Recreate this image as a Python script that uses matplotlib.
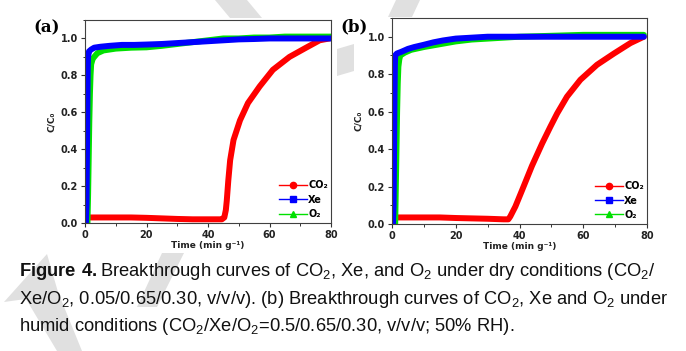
"""Breakthrough curves of CO2, Xe and O2 (dry / humid), two panels with caption."""

import matplotlib
matplotlib.use("Agg")
import matplotlib.pyplot as plt
from matplotlib.lines import Line2D
from matplotlib.patches import Polygon
from matplotlib.ticker import MultipleLocator

W, H = 686, 351

plt.rcParams["mathtext.fontset"] = "custom"
plt.rcParams["mathtext.rm"] = "Liberation Sans"
plt.rcParams["mathtext.bf"] = "Liberation Sans:bold"
plt.rcParams["mathtext.default"] = "rm"

# ---- data ----
# (a) dry conditions
co2_a_t = [0.3, 0.6, 1, 5, 10, 15, 20, 25, 30, 35, 40, 44.5, 45.3, 45.8, 46.1,
           46.6, 47.2, 48.3, 50.4, 53, 56.8, 61.1, 66.5, 71.9, 76.3, 79.5]
co2_a_v = [0.0, 0.02, 0.03, 0.03, 0.03, 0.03, 0.028, 0.025, 0.022, 0.02, 0.02,
           0.02, 0.03, 0.07, 0.12, 0.23, 0.34, 0.45, 0.556, 0.65, 0.74, 0.83,
           0.9, 0.95, 0.99, 1.0]
xe_a_t = [0.3, 0.5, 0.6, 0.7, 0.8, 0.9, 1.0, 1.3, 2, 3, 5, 8, 12, 16, 20, 25,
          30, 35, 40, 45, 50, 55, 60, 65, 70, 75, 80]
xe_a_v = [0.0, 0.1, 0.3, 0.5, 0.7, 0.85, 0.9, 0.93, 0.94, 0.95, 0.955, 0.96,
          0.965, 0.965, 0.967, 0.97, 0.975, 0.98, 0.985, 0.99, 0.995, 0.997,
          1.0, 1.0, 1.0, 1.0, 1.0]
o2_a_t = [0.8, 1.0, 1.2, 1.4, 1.6, 1.8, 2.0, 2.5, 3, 4, 6, 10, 15, 20, 25, 30,
          35, 40, 45, 50, 55, 60, 65, 70, 75, 80]
o2_a_v = [0.0, 0.15, 0.35, 0.55, 0.7, 0.8, 0.86, 0.89, 0.9, 0.92, 0.935, 0.945,
          0.95, 0.952, 0.96, 0.97, 0.98, 0.99, 1.0, 1.0, 1.005, 1.005, 1.01,
          1.01, 1.01, 1.01]

# (b) humid conditions
co2_b_t = [0.3, 0.6, 1, 5, 10, 15, 20, 25, 30, 35, 36.5, 37.1, 38.7, 40.8, 43.9,
           47.1, 49.7, 51.8, 54.9, 59.1, 64.3, 69.6, 74.8, 79]
co2_b_v = [0.0, 0.03, 0.035, 0.035, 0.035, 0.035, 0.032, 0.03, 0.028, 0.025,
           0.025, 0.04, 0.093, 0.18, 0.31, 0.43, 0.52, 0.59, 0.68, 0.77, 0.85,
           0.91, 0.966, 1.0]
xe_b_t = [0.3, 0.5, 0.6, 0.7, 0.8, 0.9, 1.0, 1.5, 3, 5, 7, 10, 13, 16, 20, 25,
          30, 40, 50, 60, 70, 79]
xe_b_v = [0.0, 0.1, 0.3, 0.5, 0.7, 0.85, 0.9, 0.91, 0.92, 0.935, 0.945, 0.957,
          0.97, 0.98, 0.99, 0.995, 1.0, 1.0, 1.0, 1.0, 1.0, 1.0]
o2_b_t = [1.0, 1.2, 1.4, 1.6, 1.8, 2.0, 2.3, 2.6, 4, 6, 10, 15, 20, 25, 30, 40,
          50, 60, 70, 79]
o2_b_v = [0.0, 0.2, 0.4, 0.6, 0.75, 0.84, 0.88, 0.9, 0.915, 0.93, 0.945, 0.96,
          0.975, 0.985, 0.99, 1.0, 1.005, 1.01, 1.01, 1.01]

gas_labels = ["CO\u2082", "Xe", "O\u2082"]
gas_colors = ["#ff0000", "#0000ff", "#00e000"]
gas_markers = ["o", "s", "^"]

xticks = [0, 20, 40, 60, 80]
yticks = [0.0, 0.2, 0.4, 0.6, 0.8, 1.0]

caption_lines = [
    r"$\mathbf{Figure\ 4.}$Breakthrough curves of CO$_2$, Xe, and O$_2$ under dry conditions (CO$_2$/",
    r"Xe/O$_2$, 0.05/0.65/0.30, v/v/v). (b) Breakthrough curves of CO$_2$, Xe and O$_2$ under",
    r"humid conditions (CO$_2$/Xe/O$_2$=0.5/0.65/0.30, v/v/v; 50% RH).",
]

# light grey watermark strokes behind the figure (pixel coords)
watermark = [
    [(215, 0), (247, 0), (262, 18), (230, 18)],
    [(396, 0), (420, 0), (412, 17), (388, 17)],
    [(337, 49), (354, 44), (354, 71), (337, 76)],
    [(162, 253), (184, 253), (157, 307), (137, 307)],
    [(47, 254), (4, 302), (26, 299), (57, 351), (82, 351), (58, 292)],
]


def px_rect(left, top, right, bottom):
    return [left / W, 1 - bottom / H, (right - left) / W, (bottom - top) / H]


fig = plt.figure(figsize=(W / 100, H / 100), dpi=100)

for poly in watermark:
    pts = [(x / W, 1 - y / H) for x, y in poly]
    fig.patches.append(Polygon(pts, closed=True, transform=fig.transFigure,
                               facecolor="#e0e0e0", edgecolor="none", zorder=-5))

panels = [
    ("(a)", px_rect(85, 20, 331, 223), (33, 19), (co2_a_t, co2_a_v), (xe_a_t, xe_a_v), (o2_a_t, o2_a_v)),
    ("(b)", px_rect(392, 18, 647, 224), (340, 18), (co2_b_t, co2_b_v), (xe_b_t, xe_b_v), (o2_b_t, o2_b_v)),
]

chart_font = "DejaVu Sans"

for tag, rect, tag_xy, co2, xe, o2 in panels:
    ax = fig.add_axes(rect)
    # draw order: CO2, O2, Xe on top
    for (t, v), c in [(co2, gas_colors[0]), (o2, gas_colors[2]), (xe, gas_colors[1])]:
        ax.plot(t, v, color=c, lw=4.3, solid_capstyle="round",
                solid_joinstyle="round")

    ax.set_xlim(0, 80)
    ax.set_ylim(0, 1.1)
    ax.set_xticks(xticks)
    ax.set_yticks(yticks)
    ax.xaxis.set_minor_locator(MultipleLocator(10))
    ax.yaxis.set_minor_locator(MultipleLocator(0.1))
    ax.set_xticklabels([str(x) for x in xticks])
    ax.set_yticklabels([f"{y:.1f}" for y in yticks])
    ax.tick_params(which="major", direction="out", length=3, width=0.8,
                   pad=2.0, labelsize=7, colors="#333333")
    ax.tick_params(which="minor", direction="out", length=1.8, width=0.7,
                   colors="#333333")
    for lab in ax.get_xticklabels() + ax.get_yticklabels():
        lab.set_fontweight("bold")
        lab.set_family(chart_font)
        lab.set_color("#222222")
    for sp in ax.spines.values():
        sp.set_color("#404040")
        sp.set_linewidth(0.8)

    ax.set_xlabel("Time (min g\u207b\u00b9)", fontsize=6.5, fontweight="bold",
                  family=chart_font, labelpad=0.8, color="#222222")
    ax.set_ylabel("C/C\u2080", fontsize=6.5, fontweight="bold",
                  family=chart_font, labelpad=3.5, color="#222222")

    handles = [Line2D([], [], color=c, marker=m, lw=1, ms=4.5, label=l)
               for c, m, l in zip(gas_colors, gas_markers, gas_labels)]
    ax.legend(handles=handles, loc="lower right", bbox_to_anchor=(0.988, 0.02),
              frameon=False, handlelength=2.9, handletextpad=0.15,
              labelspacing=0.45, borderpad=0, borderaxespad=0,
              prop={"family": chart_font, "weight": "bold", "size": 7})

    fig.text(tag_xy[0] / W, 1 - tag_xy[1] / H, tag, ha="left", va="top",
             family="DejaVu Serif", fontweight="bold", fontsize=12)

for i, line in enumerate(caption_lines):
    fig.text(19 / W, 1 - (276 + 27.5 * i) / H, line, ha="left",
             va="baseline", family="Liberation Sans", fontsize=13.2,
             color="#111111")

fig.savefig("out.png", dpi=100, facecolor="white")
